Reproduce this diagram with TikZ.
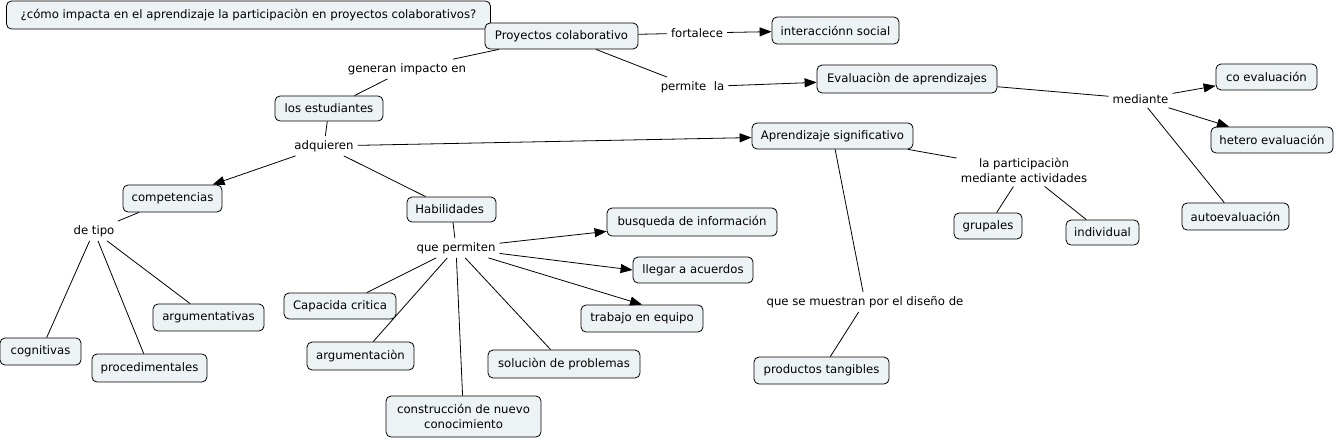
\documentclass[tikz,border=0pt]{standalone}
\usepackage{fontspec}
\setmainfont{DejaVu Sans}
\usetikzlibrary{arrows.meta}
\definecolor{boxfill}{HTML}{EDF3F5}
\begin{document}
\begin{tikzpicture}[x=1pt,y=-1pt,
  font=\fontsize{11.7}{15}\selectfont,
  cbox/.style={draw=black, line width=0.8pt, fill=boxfill, rounded corners=5pt, inner sep=0pt, align=center},
  lab/.style={inner sep=4pt, align=center},
  ln/.style={line width=0.8pt},
  arr/.style={line width=0.8pt, -{Triangle[length=12pt,width=9pt]}}
]
\useasboundingbox (0,0) rectangle (1337,439);

% concepts
\node[cbox,minimum width=484pt,minimum height=28pt] (q) at (248.5,15) {¿cómo impacta en el aprendizaje la participaciòn en proyectos colaborativos?};
\node[cbox,minimum width=153pt,minimum height=26pt] (proy) at (561.5,36) {Proyectos colaborativo};
\node[cbox,minimum width=127pt,minimum height=27pt] (inter) at (835.5,30.5) {interacciónn social};
\node[cbox,minimum width=180pt,minimum height=28pt] (eval) at (907,79) {Evaluaciòn de aprendizajes};
\node[cbox,minimum width=101pt,minimum height=26pt] (coev) at (1266.5,77) {co evaluación};
\node[cbox,minimum width=122pt,minimum height=26pt] (hetero) at (1272,140) {hetero evaluación};
\node[cbox,minimum width=107pt,minimum height=27pt] (auto) at (1235.5,216.5) {autoevaluación};
\node[cbox,minimum width=108pt,minimum height=25pt] (estud) at (329,108.5) {los estudiantes};
\node[cbox,minimum width=161pt,minimum height=26pt] (aprend) at (832.5,136) {Aprendizaje significativo};
\node[cbox,minimum width=68pt,minimum height=26pt] (grup) at (988,226) {grupales};
\node[cbox,minimum width=73pt,minimum height=25pt] (indiv) at (1102.5,232.5) {individual};
\node[cbox,minimum width=135pt,minimum height=27pt] (prod) at (821.5,370.5) {productos tangibles};
\node[cbox,minimum width=99pt,minimum height=27pt] (comp) at (172.5,198.5) {competencias};
\node[cbox,minimum width=81pt,minimum height=27pt] (cogn) at (40.5,351.5) {cognitivas};
\node[cbox,minimum width=115pt,minimum height=28pt] (proc) at (149.5,368) {procedimentales};
\node[cbox,minimum width=111pt,minimum height=27pt] (argv) at (208.5,317.5) {argumentativas};
\node[cbox,minimum width=89pt,minimum height=25pt] (habil) at (451.5,209.5) {Habilidades\ };
\node[cbox,minimum width=170pt,minimum height=28pt] (busq) at (692,222) {busqueda de información};
\node[cbox,minimum width=120pt,minimum height=26pt] (lleg) at (693,270) {llegar a acuerdos};
\node[cbox,minimum width=122pt,minimum height=27pt] (trab) at (642,318.5) {trabajo en equipo};
\node[cbox,minimum width=112pt,minimum height=26pt] (capac) at (340,306) {Capacida critica};
\node[cbox,minimum width=107pt,minimum height=28pt] (argum) at (360.5,356) {argumentaciòn};
\node[cbox,minimum width=152pt,minimum height=28pt] (soluc) at (564,364) {soluciòn de problemas};
\node[cbox,minimum width=155pt,minimum height=41pt] (constr) at (463.5,416.5) {construcción de nuevo\\conocimiento};

% linking phrases
\node[lab] (fort) at (697,33) {fortalece};
\node[lab] (perm) at (692.5,87) {permite\ \ la};
\node[lab] (gen) at (407,69) {generan impacto en};
\node[lab] (adq) at (324,146) {adquieren};
\node[lab] (med) at (1140.5,99) {mediante};
\node[lab] (part) at (1024,170) {la participaciòn\\mediante actividades};
\node[lab] (mues) at (865,302) {que se muestran por el diseño de};
\node[lab] (tipo) at (94,231) {de tipo};
\node[lab] (qperm) at (456,248) {que permiten};

% connectors
\draw[ln] (proy) -- (fort);
\draw[arr] (fort) -- (inter);
\draw[ln] (proy) -- (perm);
\draw[arr] (perm) -- (eval);
\draw[ln] (proy) -- (gen);
\draw[ln] (gen) -- (estud);
\draw[ln] (estud) -- (adq);
\draw[arr] (adq) -- (comp);
\draw[ln] (adq) -- (habil);
\draw[arr] (adq) -- (aprend);
\draw[ln] (eval) -- (med);
\draw[arr] (med) -- (coev);
\draw[arr] (med) -- (hetero);
\draw[ln] (med) -- (auto);
\draw[ln] (aprend) -- (part);
\draw[ln] (part) -- (grup);
\draw[ln] (part) -- (indiv);
\draw[ln] (aprend) -- (mues);
\draw[ln] (mues) -- (prod);
\draw[ln] (comp) -- (tipo);
\draw[ln] (tipo) -- (cogn);
\draw[ln] (tipo) -- (proc);
\draw[ln] (tipo) -- (argv);
\draw[ln] (habil) -- (qperm);
\draw[arr] (qperm) -- (busq);
\draw[arr] (qperm) -- (lleg.west);
\draw[arr] (qperm) -- (trab.north);
\draw[ln] (qperm) -- (capac);
\draw[ln] (qperm) -- (argum);
\draw[ln] (qperm) -- (constr);
\draw[ln] (qperm) -- (soluc);
\end{tikzpicture}
\end{document}
